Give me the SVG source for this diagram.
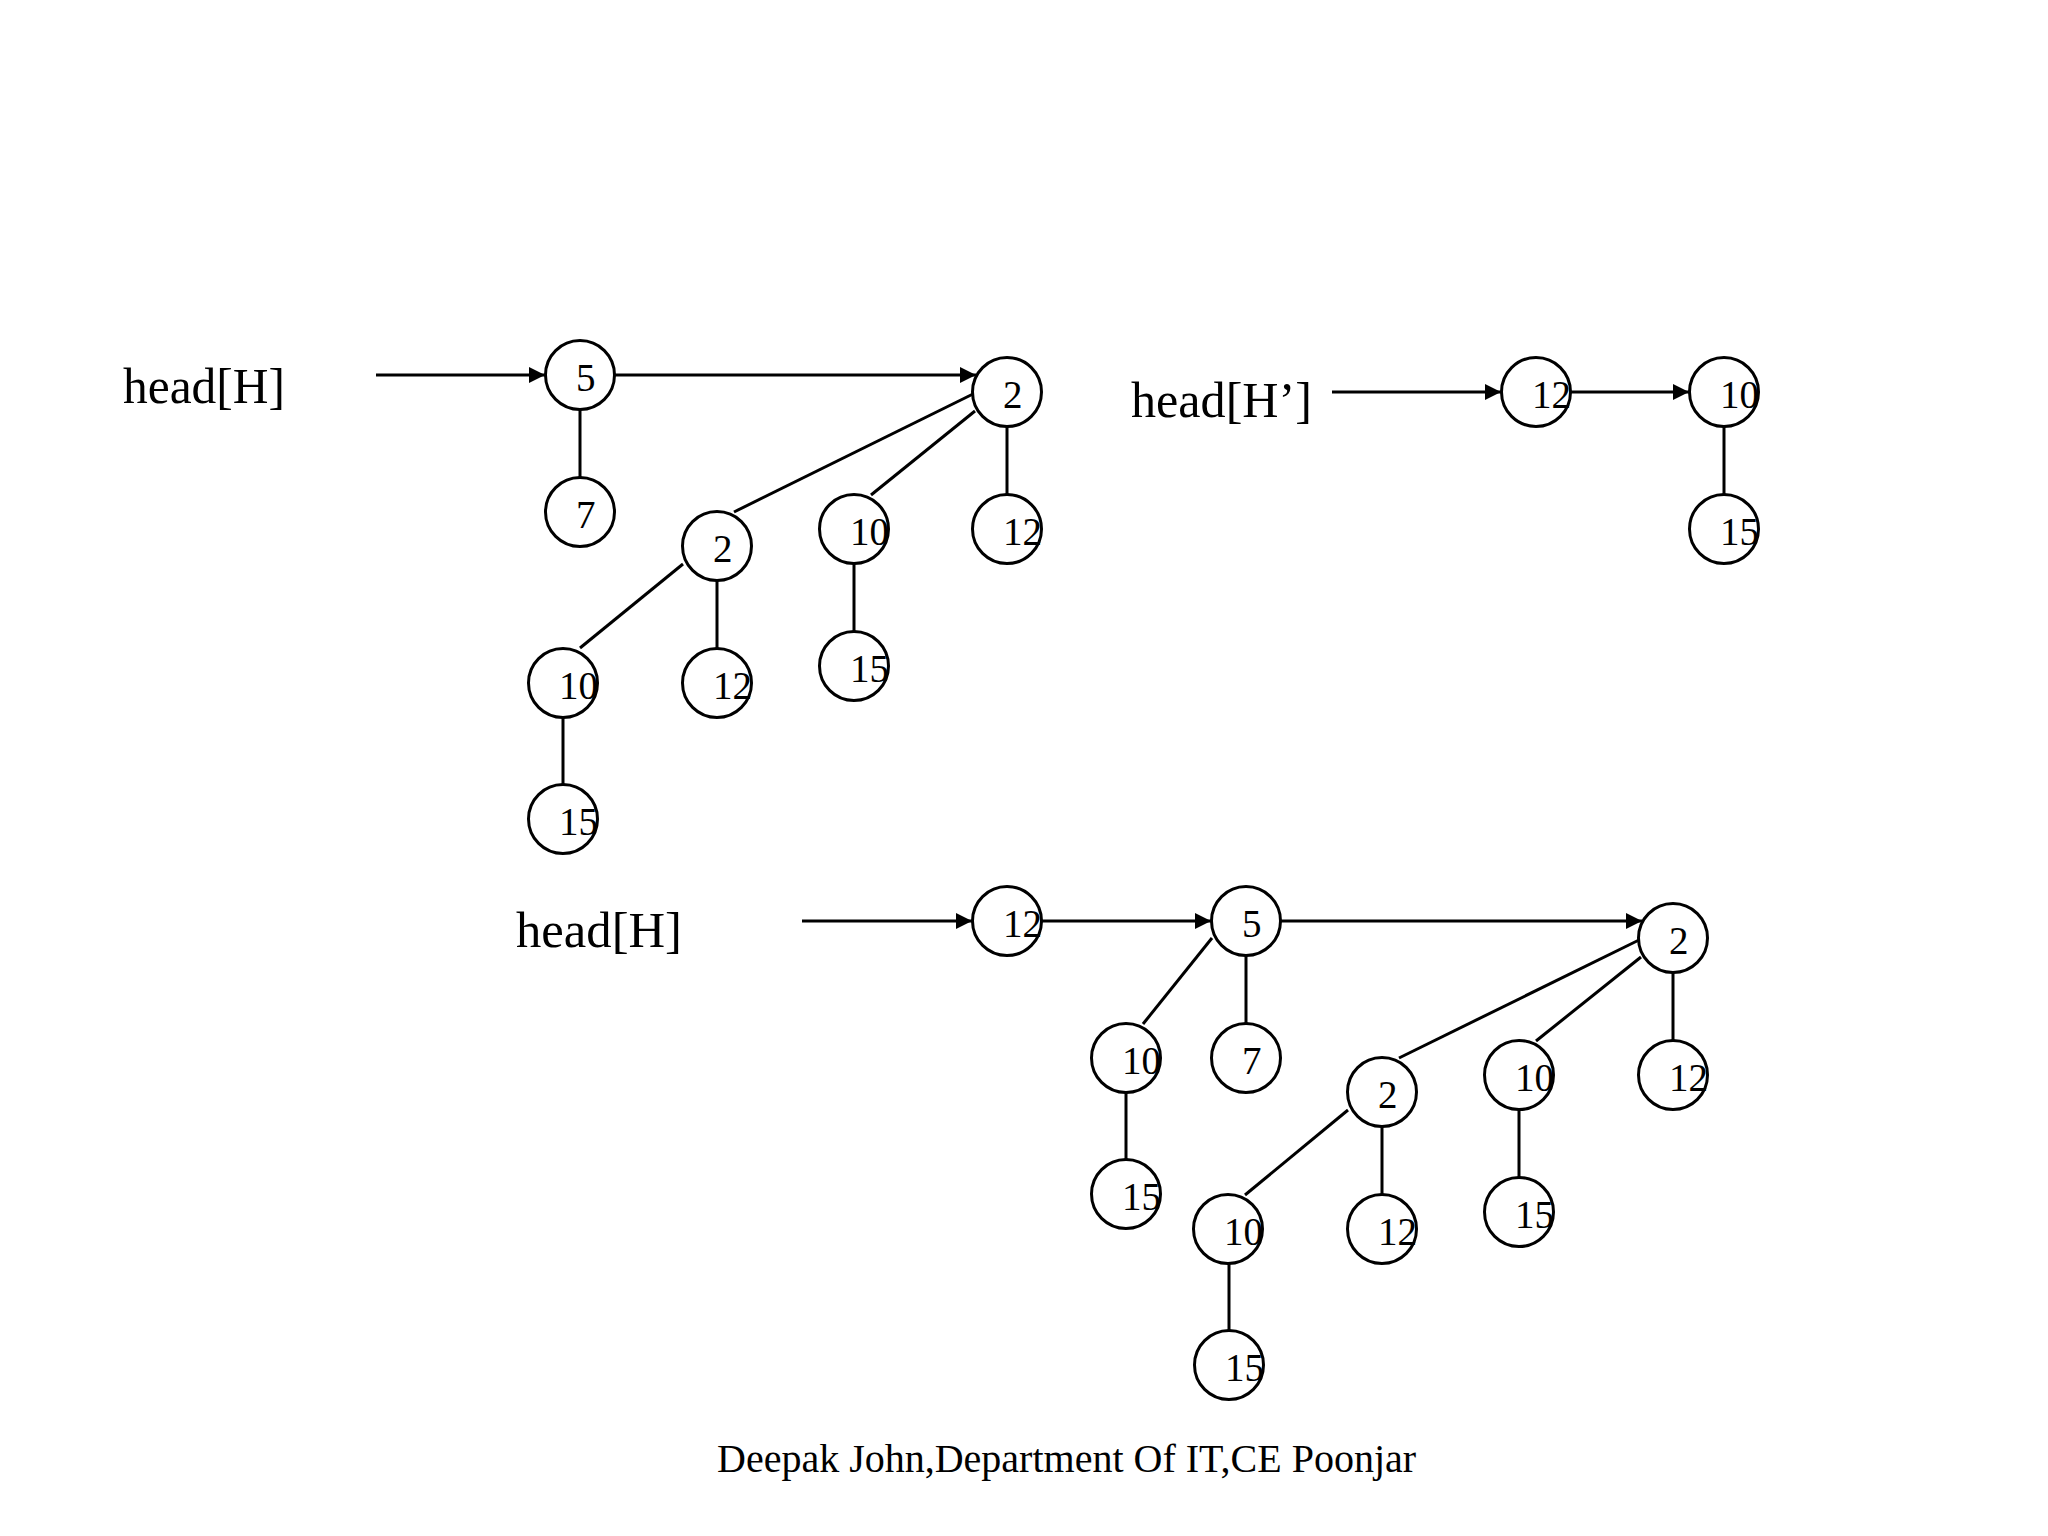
<svg xmlns="http://www.w3.org/2000/svg" width="2048" height="1536" viewBox="0 0 2048 1536">
<style>
.n circle{fill:#fff;stroke:#000;stroke-width:3}
.n text{font-family:"Liberation Serif","Times New Roman",serif;font-size:39px;fill:#000}
.lbl{font-family:"Liberation Serif","Times New Roman",serif;font-size:51px;fill:#000}
.foot{font-family:"Liberation Serif","Times New Roman",serif;font-size:40px;fill:#000}
.e line{stroke:#000;stroke-width:3}
.a{marker-end:url(#ah)}
</style>
<defs>
<marker id="ah" markerUnits="userSpaceOnUse" markerWidth="18" markerHeight="18" refX="16" refY="8" orient="auto">
<path d="M0,0 L16,8 L0,16 z" fill="#000"/>
</marker>
</defs>
<rect width="2048" height="1536" fill="#fff"/>
<text class="lbl" x="123" y="403" textLength="162" lengthAdjust="spacingAndGlyphs">head[H]</text>
<text class="lbl" x="1131" y="417" textLength="181" lengthAdjust="spacingAndGlyphs">head[H’]</text>
<text class="lbl" x="516" y="947" textLength="166" lengthAdjust="spacingAndGlyphs">head[H]</text>
<text class="foot" x="717" y="1472">Deepak John,Department Of IT,CE Poonjar</text>
<g id="connectors" class="e">
<line class="a" x1="376" y1="375" x2="545" y2="375"/>
<line class="a" x1="615" y1="375" x2="976" y2="375"/>
<line x1="580" y1="409.5" x2="580" y2="477.5"/>
<line x1="973" y1="394" x2="734" y2="512"/>
<line x1="975" y1="411" x2="871" y2="495"/>
<line x1="1007" y1="426.5" x2="1007" y2="494.5"/>
<line x1="683" y1="564" x2="580" y2="648"/>
<line x1="717" y1="580.5" x2="717" y2="648.5"/>
<line x1="854" y1="563.5" x2="854" y2="631.5"/>
<line x1="563" y1="717.5" x2="563" y2="784.5"/>
<line class="a" x1="1332" y1="392" x2="1501" y2="392"/>
<line class="a" x1="1570" y1="392" x2="1689" y2="392"/>
<line x1="1724" y1="426.5" x2="1724" y2="494.5"/>
<line class="a" x1="802" y1="921" x2="972" y2="921"/>
<line class="a" x1="1041.5" y1="921" x2="1211" y2="921"/>
<line class="a" x1="1280.5" y1="921" x2="1642" y2="921"/>
<line x1="1212" y1="938" x2="1143" y2="1024"/>
<line x1="1246" y1="955.5" x2="1246" y2="1023.5"/>
<line x1="1126" y1="1092.5" x2="1126" y2="1159.5"/>
<line x1="1639" y1="940" x2="1399" y2="1058"/>
<line x1="1641" y1="957" x2="1536" y2="1041"/>
<line x1="1673" y1="972.5" x2="1673" y2="1040.5"/>
<line x1="1348" y1="1110" x2="1245" y2="1195"/>
<line x1="1382" y1="1126.5" x2="1382" y2="1194.5"/>
<line x1="1519" y1="1109.5" x2="1519" y2="1177.5"/>
<line x1="1229" y1="1263.5" x2="1229" y2="1330.5"/>
</g>
<g id="t1-5" class="n"><circle cx="580" cy="375" r="34.5"/><text x="576" y="391">5</text></g>
<g id="t1-7" class="n"><circle cx="580" cy="512" r="34.5"/><text x="576" y="528">7</text></g>
<g id="t1-2" class="n"><circle cx="1007" cy="392" r="34.5"/><text x="1003" y="408">2</text></g>
<g id="t1-2b" class="n"><circle cx="717" cy="546" r="34.5"/><text x="713" y="562">2</text></g>
<g id="t1-10a" class="n"><circle cx="854" cy="529" r="34.5"/><text x="850" y="545">10</text></g>
<g id="t1-12a" class="n"><circle cx="1007" cy="529" r="34.5"/><text x="1003" y="545">12</text></g>
<g id="t1-10b" class="n"><circle cx="563" cy="683" r="34.5"/><text x="559" y="699">10</text></g>
<g id="t1-12b" class="n"><circle cx="717" cy="683" r="34.5"/><text x="713" y="699">12</text></g>
<g id="t1-15a" class="n"><circle cx="854" cy="666" r="34.5"/><text x="850" y="682">15</text></g>
<g id="t1-15b" class="n"><circle cx="563" cy="819" r="34.5"/><text x="559" y="835">15</text></g>
<g id="t2-12" class="n"><circle cx="1536" cy="392" r="34.5"/><text x="1532" y="408">12</text></g>
<g id="t2-10" class="n"><circle cx="1724" cy="392" r="34.5"/><text x="1720" y="408">10</text></g>
<g id="t2-15" class="n"><circle cx="1724" cy="529" r="34.5"/><text x="1720" y="545">15</text></g>
<g id="t3-12" class="n"><circle cx="1007" cy="921" r="34.5"/><text x="1003" y="937">12</text></g>
<g id="t3-5" class="n"><circle cx="1246" cy="921" r="34.5"/><text x="1242" y="937">5</text></g>
<g id="t3-2" class="n"><circle cx="1673" cy="938" r="34.5"/><text x="1669" y="954">2</text></g>
<g id="t3-10c" class="n"><circle cx="1126" cy="1058" r="34.5"/><text x="1122" y="1074">10</text></g>
<g id="t3-7" class="n"><circle cx="1246" cy="1058" r="34.5"/><text x="1242" y="1074">7</text></g>
<g id="t3-15c" class="n"><circle cx="1126" cy="1194" r="34.5"/><text x="1122" y="1210">15</text></g>
<g id="t3-2c" class="n"><circle cx="1382" cy="1092" r="34.5"/><text x="1378" y="1108">2</text></g>
<g id="t3-10d" class="n"><circle cx="1519" cy="1075" r="34.5"/><text x="1515" y="1091">10</text></g>
<g id="t3-12d" class="n"><circle cx="1673" cy="1075" r="34.5"/><text x="1669" y="1091">12</text></g>
<g id="t3-10e" class="n"><circle cx="1228" cy="1229" r="34.5"/><text x="1224" y="1245">10</text></g>
<g id="t3-12e" class="n"><circle cx="1382" cy="1229" r="34.5"/><text x="1378" y="1245">12</text></g>
<g id="t3-15d" class="n"><circle cx="1519" cy="1212" r="34.5"/><text x="1515" y="1228">15</text></g>
<g id="t3-15e" class="n"><circle cx="1229" cy="1365" r="34.5"/><text x="1225" y="1381">15</text></g>
</svg>
